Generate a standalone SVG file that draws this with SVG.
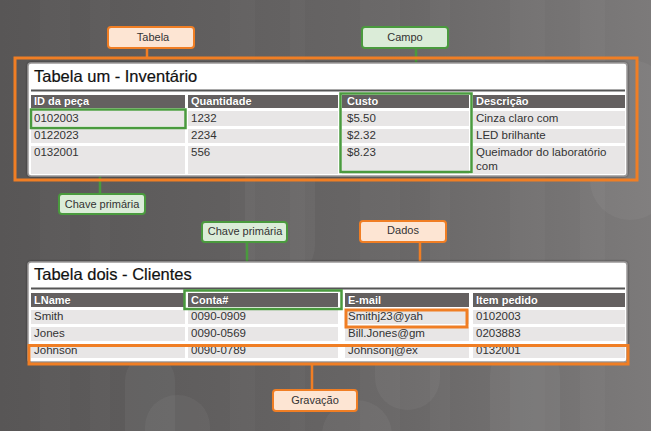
<svg xmlns="http://www.w3.org/2000/svg" width="651" height="431" viewBox="0 0 651 431">
<defs>
<linearGradient id="bg" x1="0" y1="0" x2="1" y2="0">
<stop offset="0" stop-color="#585656"/>
<stop offset="0.6" stop-color="#686666"/>
<stop offset="1" stop-color="#7c7a7a"/>
</linearGradient>
<filter id="sh" x="-5%" y="-10%" width="110%" height="120%">
<feDropShadow dx="0" dy="0" stdDeviation="1.2" flood-color="#000" flood-opacity="0.5"/>
</filter>
<style>
.card{fill:#fff;stroke:#9a9898;stroke-width:1.5}
.title{font-family:"Liberation Sans",Arial,sans-serif;font-size:16.5px;fill:#111;stroke:#111;stroke-width:0.2}
.hdr{fill:#646060}
.hdrt{font-family:"Liberation Sans",Arial,sans-serif;font-size:11px;font-weight:bold;fill:#fff;stroke:#3a3838;stroke-width:0.4;paint-order:stroke}
.cell{fill:#e8e6e6}
.ct{font-family:"Liberation Sans",Arial,sans-serif;font-size:11.5px;fill:#333}
.lbl{font-family:"Liberation Sans",Arial,sans-serif;font-size:11px;fill:#333;text-anchor:middle}
.ob{fill:#fde5d3;stroke:#f07e24;stroke-width:2}
.gb{fill:#dbecd8;stroke:#4a9a3e;stroke-width:2}
.oh{fill:none;stroke:#f07e24;stroke-width:3}
.gh{fill:none;stroke:#4a9a3e;stroke-width:2.5}
.ol{stroke:#f07e24;stroke-width:2.5}
.gl{stroke:#4a9a3e;stroke-width:2.5}
.stripe{fill:#fff;opacity:0.025}
.blob{fill:#fff;opacity:0.045}
</style>
</defs>
<rect width="651" height="431" fill="url(#bg)"/>
<g id="background">
<rect class="stripe" x="40" y="0" width="30" height="431"/>
<rect class="stripe" x="90" y="0" width="20" height="431"/>
<rect class="stripe" x="230" y="0" width="25" height="431"/>
<rect class="stripe" x="290" y="0" width="15" height="431"/>
<rect class="stripe" x="360" y="0" width="40" height="431"/>
<rect class="stripe" x="430" y="0" width="20" height="431"/>
<rect class="stripe" x="510" y="0" width="35" height="431"/>
<rect class="stripe" x="580" y="0" width="25" height="431"/>
<rect class="blob" x="125" y="355" width="50" height="120" rx="25"/>
<rect class="blob" x="145" y="395" width="65" height="120" rx="32"/>
<rect class="blob" x="322" y="400" width="70" height="120" rx="35"/>
<rect class="blob" x="375" y="330" width="65" height="80" rx="32"/>
<rect class="blob" x="490" y="340" width="70" height="140" rx="35"/>
<rect class="blob" x="245" y="140" width="70" height="140" rx="35"/>
<rect class="blob" x="590" y="60" width="80" height="160" rx="40"/>
</g>
<g id="connectors">
<line class="ol" x1="147" y1="48" x2="147" y2="58"/>
<line class="gl" x1="416" y1="48" x2="416" y2="93"/>
<line class="gl" x1="100" y1="128" x2="100" y2="194"/>
<line class="gl" x1="247" y1="242" x2="247" y2="290"/>
<line class="ol" x1="420" y1="242" x2="420" y2="310"/>
<line class="ol" x1="312" y1="364" x2="312" y2="390"/>
</g>
<g id="table1">
<rect class="card" x="28" y="63" width="599" height="113" rx="3" filter="url(#sh)"/>
<text class="title" x="34" y="82">Tabela um - Inventário</text>
<rect x="31" y="89.5" width="594" height="2" fill="#555"/>
<rect class="hdr" x="31" y="95" width="154" height="13"/>
<rect class="hdr" x="188" y="95" width="150" height="13"/>
<rect class="hdr" x="342" y="95" width="127" height="13"/>
<rect class="hdr" x="473" y="95" width="152" height="13"/>
<text class="hdrt" x="34" y="105">ID da peça</text>
<text class="hdrt" x="191" y="105">Quantidade</text>
<text class="hdrt" x="347" y="105">Custo</text>
<text class="hdrt" x="476" y="105">Descrição</text>
<rect class="cell" x="31" y="111" width="154" height="15"/>
<rect class="cell" x="188" y="111" width="150" height="15"/>
<rect class="cell" x="342" y="111" width="127" height="15"/>
<rect class="cell" x="473" y="111" width="152" height="15"/>
<rect class="cell" x="31" y="129" width="154" height="14"/>
<rect class="cell" x="188" y="129" width="150" height="14"/>
<rect class="cell" x="342" y="129" width="127" height="14"/>
<rect class="cell" x="473" y="129" width="152" height="14"/>
<rect class="cell" x="31" y="146" width="154" height="28"/>
<rect class="cell" x="188" y="146" width="150" height="28"/>
<rect class="cell" x="342" y="146" width="127" height="28"/>
<rect class="cell" x="473" y="146" width="152" height="28"/>
<text class="ct" x="34" y="122">0102003</text>
<text class="ct" x="191" y="122">1232</text>
<text class="ct" x="347" y="122">$5.50</text>
<text class="ct" x="476" y="122">Cinza claro com</text>
<text class="ct" x="34" y="139">0122023</text>
<text class="ct" x="191" y="139">2234</text>
<text class="ct" x="347" y="139">$2.32</text>
<text class="ct" x="476" y="139">LED brilhante</text>
<text class="ct" x="34" y="156">0132001</text>
<text class="ct" x="191" y="156">556</text>
<text class="ct" x="347" y="156">$8.23</text>
<text class="ct" x="476" y="156">Queimador do laboratório</text>
<text class="ct" x="476" y="170">com</text>
</g>
<g id="table2">
<rect class="card" x="28" y="262" width="599" height="100" rx="3" filter="url(#sh)"/>
<text class="title" x="34" y="280">Tabela dois - Clientes</text>
<rect x="31" y="287.5" width="594" height="2" fill="#555"/>
<rect class="hdr" x="31" y="293" width="154" height="14"/>
<rect class="hdr" x="188" y="293" width="150" height="14"/>
<rect class="hdr" x="345" y="293" width="124" height="14"/>
<rect class="hdr" x="473" y="293" width="152" height="14"/>
<text class="hdrt" x="34" y="304">LName</text>
<text class="hdrt" x="191" y="304">Conta#</text>
<text class="hdrt" x="348" y="304">E-mail</text>
<text class="hdrt" x="476" y="304">Item pedido</text>
<rect class="cell" x="31" y="310" width="154" height="14"/>
<rect class="cell" x="188" y="310" width="150" height="14"/>
<rect class="cell" x="345" y="310" width="124" height="14"/>
<rect class="cell" x="473" y="310" width="152" height="14"/>
<rect class="cell" x="31" y="327" width="154" height="14"/>
<rect class="cell" x="188" y="327" width="150" height="14"/>
<rect class="cell" x="345" y="327" width="124" height="14"/>
<rect class="cell" x="473" y="327" width="152" height="14"/>
<rect class="cell" x="31" y="344" width="154" height="14"/>
<rect class="cell" x="188" y="344" width="150" height="14"/>
<rect class="cell" x="345" y="344" width="124" height="14"/>
<rect class="cell" x="473" y="344" width="152" height="14"/>
<text class="ct" x="34" y="320">Smith</text>
<text class="ct" x="191" y="320">0090-0909</text>
<text class="ct" x="348" y="320">Smithj23@yah</text>
<text class="ct" x="476" y="320">0102003</text>
<text class="ct" x="34" y="337">Jones</text>
<text class="ct" x="191" y="337">0090-0569</text>
<text class="ct" x="348" y="337">Bill.Jones@gm</text>
<text class="ct" x="476" y="337">0203883</text>
<text class="ct" x="34" y="354">Johnson</text>
<text class="ct" x="191" y="354">0090-0789</text>
<text class="ct" x="348" y="354">Johnsonj@ex</text>
<text class="ct" x="476" y="354">0132001</text>
</g>
<g id="highlights">
<rect class="oh" x="15" y="58" width="622" height="122"/>
<rect class="gh" x="340.5" y="93.5" width="131" height="78.5"/>
<rect class="gh" x="31" y="109.5" width="154.5" height="18.5"/>
<rect class="gh" x="184.5" y="290.5" width="157" height="18.5"/>
<rect class="oh" x="346" y="310" width="121" height="17"/>
<rect class="oh" x="29" y="345.5" width="599" height="18.5"/>
</g>
<g id="label-tabela">
<rect class="ob" x="108" y="27" width="86" height="21" rx="3"/>
<text class="lbl" x="153" y="41">Tabela</text>
</g>
<g id="label-campo">
<rect class="gb" x="362" y="27" width="86" height="21" rx="3"/>
<text class="lbl" x="405" y="41">Campo</text>
</g>
<g id="label-chave1">
<rect class="gb" x="59" y="194" width="86" height="20" rx="3"/>
<text class="lbl" x="102" y="208">Chave primária</text>
</g>
<g id="label-chave2">
<rect class="gb" x="202" y="222" width="85" height="20" rx="3"/>
<text class="lbl" x="245" y="235">Chave primária</text>
</g>
<g id="label-dados">
<rect class="ob" x="360" y="221" width="86" height="21" rx="3"/>
<text class="lbl" x="403" y="234">Dados</text>
</g>
<g id="label-gravacao">
<rect class="ob" x="273" y="390" width="84" height="21" rx="3"/>
<text class="lbl" x="315" y="404">Gravação</text>
</g>
</svg>
